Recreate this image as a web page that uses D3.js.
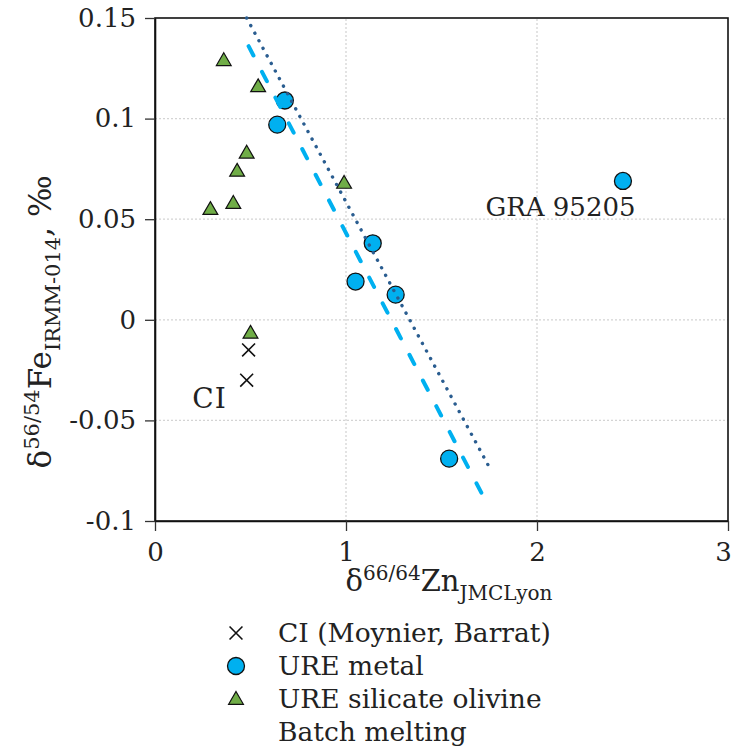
<!DOCTYPE html>
<html>
<head>
<meta charset="utf-8">
<script src="https://cdn.jsdelivr.net/npm/d3@7"></script>
<style>
  body { margin: 0; background: #fff; }
  svg text { font-family: "DejaVu Serif", "Liberation Serif", serif; fill: #222; }
</style>
</head>
<body>
<div id="chart"></div>
<script>
// data
const ciPoints = [[0.49, -0.015], [0.48, -0.030]];
const metalPoints = [[0.64, 0.097], [0.68, 0.109], [1.05, 0.019], [1.14, 0.038], [1.26, 0.0125], [1.54, -0.069], [2.45, 0.069]];
const olivinePoints = [[0.36, 0.129], [0.54, 0.116], [0.48, 0.083], [0.43, 0.074], [0.29, 0.055], [0.41, 0.058], [0.50, -0.0065], [0.99, 0.068]];
const dottedLine = [[0.48, 0.15], [1.76, -0.075]];
const batchLine = [[0.49, 0.136], [1.72, -0.088]];
const xTicks = [0, 1, 2, 3];
const yTicks = [-0.1, -0.05, 0, 0.05, 0.1, 0.15];
const legendItems = ["CI (Moynier, Barrat)", "URE metal", "URE silicate olivine", "Batch melting"];
const annotations = [{ text: "GRA 95205", at: [1.73, 0.0515], size: 26, ls: 0 }, { text: "CI", at: [0.195, -0.044], size: 28, ls: 1 }];

const width = 733, height = 751;
const margin = { left: 155, right: 5, top: 18, bottom: 230 };

const svg = d3.select("#chart").append("svg")
  .attr("width", width)
  .attr("height", height);

const x = d3.scaleLinear().domain([0, 3]).range([margin.left, width - margin.right]);
const y = d3.scaleLinear().domain([-0.1, 0.15]).range([height - margin.bottom, margin.top]);

// gridlines
svg.append("g").selectAll("line.gy")
  .data(yTicks.filter(d => d > -0.1 && d < 0.15))
  .join("line")
  .attr("x1", x(0)).attr("x2", x(3))
  .attr("y1", d => y(d)).attr("y2", d => y(d))
  .attr("stroke", "#d4d4d4").attr("stroke-width", 1.3).attr("stroke-dasharray", "2 2");
svg.append("g").selectAll("line.gx")
  .data(xTicks.filter(d => d > 0 && d < 3))
  .join("line")
  .attr("x1", d => x(d)).attr("x2", d => x(d))
  .attr("y1", y(-0.1)).attr("y2", y(0.15))
  .attr("stroke", "#d4d4d4").attr("stroke-width", 1.3).attr("stroke-dasharray", "2 2");

// frame
svg.append("rect")
  .attr("x", x(0)).attr("y", y(0.15))
  .attr("width", x(3) - x(0)).attr("height", y(-0.1) - y(0.15))
  .attr("fill", "none").attr("stroke", "#111").attr("stroke-width", 1.6);

// axes
const xAxis = svg.append("g")
  .attr("transform", `translate(0,${y(-0.1)})`)
  .call(d3.axisBottom(x).tickValues(xTicks).tickFormat(d3.format("d")).tickSizeInner(10).tickSizeOuter(0).tickPadding(12));
const yAxis = svg.append("g")
  .attr("transform", `translate(${x(0)},0)`)
  .call(d3.axisLeft(y).tickValues(yTicks).tickFormat(d => d === 0 ? "0" : String(+d.toFixed(2))).tickSizeInner(10).tickSizeOuter(0).tickPadding(9));
[xAxis, yAxis].forEach(a => {
  a.select(".domain").attr("stroke", "#111").attr("stroke-width", 1.6);
  a.selectAll(".tick line").attr("stroke", "#333").attr("stroke-width", 1.3);
  a.selectAll(".tick text").attr("font-size", 26).attr("font-family", "DejaVu Serif").attr("fill", "#222");
});
xAxis.selectAll(".tick text").filter(d => d === 3).attr("dx", -5);

// markers
const circleR = 8.5;
svg.append("g").selectAll("circle")
  .data(metalPoints)
  .join("circle")
  .attr("cx", d => x(d[0])).attr("cy", d => y(d[1]))
  .attr("r", circleR)
  .attr("fill", "#00b0f0").attr("stroke", "#111").attr("stroke-width", 1.3);

const tri = d3.symbol().type(d3.symbolTriangle).size(95);
svg.append("g").selectAll("path")
  .data(olivinePoints)
  .join("path")
  .attr("d", tri)
  .attr("transform", d => `translate(${x(d[0])},${y(d[1]) + 1})`)
  .attr("fill", "#70ad47").attr("stroke", "#111").attr("stroke-width", 1.2);

const cross = d3.symbol().type(d3.symbolX).size(110);
svg.append("g").selectAll("path")
  .data(ciPoints)
  .join("path")
  .attr("d", cross)
  .attr("transform", d => `translate(${x(d[0])},${y(d[1])})`)
  .attr("fill", "none").attr("stroke", "#111").attr("stroke-width", 1.6);

// lines
const line = d3.line().x(d => x(d[0])).y(d => y(d[1]));
svg.append("path")
  .datum(batchLine)
  .attr("d", line)
  .attr("fill", "none").attr("stroke", "#00b0f0").attr("stroke-width", 4)
  .attr("stroke-linecap", "round").attr("stroke-dasharray", "10.5 18.5");
svg.append("path")
  .datum(dottedLine)
  .attr("d", line)
  .attr("fill", "none").attr("stroke", "#2a5d90").attr("stroke-width", 3.4)
  .attr("stroke-linecap", "round").attr("stroke-dasharray", "0.1 8.5");

// annotations
svg.append("g").selectAll("text")
  .data(annotations)
  .join("text")
  .attr("x", d => x(d.at[0])).attr("y", d => y(d.at[1]))
  .attr("font-size", d => d.size)
  .attr("letter-spacing", d => d.ls)
  .text(d => d.text);

// axis titles
const xt = svg.append("text")
  .attr("x", 449).attr("y", 591)
  .attr("text-anchor", "middle").attr("font-size", 29);
xt.append("tspan").text("δ");
xt.append("tspan").attr("dy", -11).attr("font-size", 20).text("66/64");
xt.append("tspan").attr("dy", 11).text("Zn");
xt.append("tspan").attr("dy", 9).attr("font-size", 20).text("JMCLyon");

const yt = svg.append("text")
  .attr("transform", `translate(51,322) rotate(-90)`)
  .attr("text-anchor", "middle").attr("font-size", 31);
yt.append("tspan").text("δ");
yt.append("tspan").attr("dy", -12).attr("font-size", 21).text("56/54");
yt.append("tspan").attr("dy", 12).text("Fe");
yt.append("tspan").attr("dy", 9).attr("font-size", 21).text("IRMM-014");
yt.append("tspan").attr("dy", -9).text(", ‰");

// legend
const legend = svg.append("g").attr("transform", "translate(236,633)");
const rows = legend.selectAll("g")
  .data(legendItems)
  .join("g")
  .attr("transform", (d, i) => `translate(0,${i * 33})`);
rows.append("text")
  .attr("x", 42).attr("y", 9)
  .attr("font-size", 26.5)
  .text(d => d);
rows.filter((d, i) => i === 0).append("path")
  .attr("d", cross).attr("fill", "none").attr("stroke", "#111").attr("stroke-width", 1.6);
rows.filter((d, i) => i === 1).append("circle")
  .attr("r", circleR).attr("fill", "#00b0f0").attr("stroke", "#111").attr("stroke-width", 1.3);
rows.filter((d, i) => i === 2).append("path")
  .attr("d", tri).attr("transform", "translate(0,1)")
  .attr("fill", "#70ad47").attr("stroke", "#111").attr("stroke-width", 1.2);
</script>
</body>
</html>
